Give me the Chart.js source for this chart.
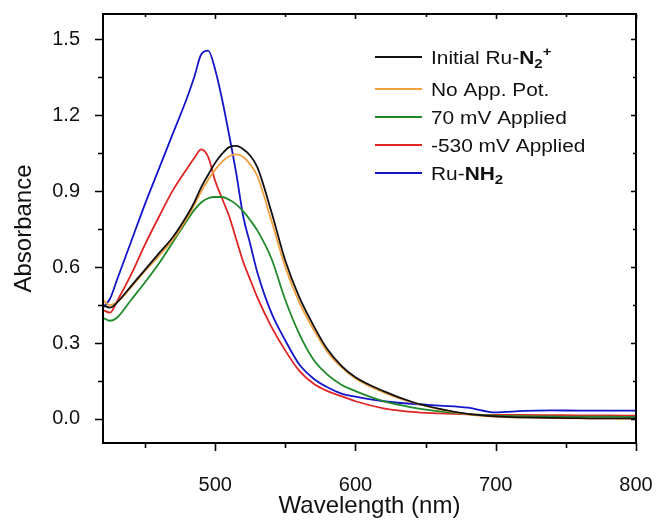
<!DOCTYPE html>
<html>
<head>
<meta charset="utf-8">
<script src="https://cdn.jsdelivr.net/npm/chart.js@4"></script>
<style>
  html, body { margin: 0; padding: 0; background: #fff; overflow: hidden; }
  #wrap { width: 657px; height: 520px; position: relative; overflow: hidden; }
  #spectra { display: block; }
</style>
</head>
<body>
<div id="wrap"><canvas id="spectra"></canvas></div>
<script>
// UV-vis spectra, absorbance vs wavelength (nm)
const wavelength = [420, 425, 430, 440, 450, 460, 470, 480, 485, 490, 495, 500, 505, 510, 515, 520, 525, 530,
                    540, 550, 560, 570, 580, 590, 600, 620, 640, 660, 680, 700, 720, 740, 760, 780, 800];

const initialRuN2 = [0.45, 0.44, 0.46, 0.525, 0.59, 0.655, 0.72, 0.805, 0.855, 0.915, 0.965, 1.012, 1.048, 1.074, 1.079, 1.066, 1.04, 0.995,
                     0.82, 0.625, 0.48, 0.37, 0.275, 0.21, 0.165, 0.11, 0.068, 0.04, 0.02, 0.01, 0.006, 0.004, 0.003, 0.002, 0.002];
const noPotential = [0.47, 0.45, 0.462, 0.52, 0.585, 0.645, 0.71, 0.795, 0.845, 0.898, 0.945, 0.985, 1.017, 1.038, 1.045, 1.035, 1.005, 0.96,
                     0.785, 0.60, 0.46, 0.355, 0.265, 0.205, 0.16, 0.105, 0.066, 0.038, 0.018, 0.008, 0.005, 0.003, 0.002, 0.001, 0.0];
const applied70 = [0.40, 0.388, 0.40, 0.47, 0.54, 0.615, 0.70, 0.785, 0.825, 0.855, 0.872, 0.877, 0.877, 0.866, 0.848, 0.82, 0.785, 0.745,
                   0.635, 0.47, 0.335, 0.235, 0.175, 0.135, 0.11, 0.07, 0.046, 0.03, 0.019, 0.013, 0.011, 0.01, 0.009, 0.009, 0.008];
const applied530 = [0.43, 0.42, 0.465, 0.57, 0.69, 0.80, 0.905, 0.99, 1.03, 1.065, 1.035, 0.94, 0.87, 0.80, 0.71, 0.62, 0.55, 0.48,
                    0.365, 0.27, 0.19, 0.14, 0.11, 0.09, 0.07, 0.042, 0.028, 0.022, 0.018, 0.016, 0.016, 0.015, 0.014, 0.014, 0.013];
const ruNH2 = [0.44, 0.475, 0.55, 0.70, 0.85, 0.99, 1.13, 1.27, 1.35, 1.44, 1.455, 1.38, 1.26, 1.12, 0.97, 0.80, 0.69, 0.58,
               0.42, 0.31, 0.215, 0.16, 0.125, 0.10, 0.088, 0.07, 0.06, 0.053, 0.045, 0.026, 0.032, 0.034, 0.033, 0.033, 0.033];

const xTicks = [500, 600, 700, 800];
const yTicks = [0.0, 0.3, 0.6, 0.9, 1.2, 1.5];

const seriesColors = ['#111111', '#f2a03d', '#1f8a2a', '#e02424', '#1515c8'];
const seriesNames = ['Initial Ru-N2+', 'No App. Pot.', '70 mV Applied', '-530 mV Applied', 'Ru-NH2'];
// legend text pieces: b = bold, sub / sup = sub- and superscript
const legendText = [
  [{ t: 'Initial Ru-' }, { t: 'N', b: 1 }, { t: '2', b: 1, sub: 1 }, { t: '+', b: 1, sup: 1 }],
  [{ t: 'No App. Pot.' }],
  [{ t: '70 mV Applied' }],
  [{ t: '-530 mV Applied' }],
  [{ t: 'Ru-' }, { t: 'NH', b: 1 }, { t: '2', b: 1, sub: 1 }]
];

const FONT = '"Liberation Sans", Arial, sans-serif';
const allSeries = [initialRuN2, noPotential, applied70, applied530, ruNH2];

const datasets = allSeries.map((vals, i) => ({
  label: seriesNames[i],
  data: wavelength.map((w, k) => ({ x: w, y: vals[k] })),
  borderColor: seriesColors[i],
  borderWidth: 1.8,
  pointRadius: 0,
  cubicInterpolationMode: 'monotone',
  fill: false
}));

// frame + major/minor tick marks (out on bottom/left, in on top/right)
const frameTicks = {
  id: 'frameTicks',
  afterDatasetsDraw(chart) {
    const { ctx, chartArea: a, scales: { x, y } } = chart;
    ctx.save();
    ctx.strokeStyle = '#000';
    ctx.lineWidth = 1.6;
    ctx.beginPath();
    const xStep = xTicks[1] - xTicks[0];
    const yStep = yTicks[1] - yTicks[0];
    const xs = [];
    xTicks.forEach(v => { xs.push([v, true]); xs.push([v - xStep / 2, false]); });
    xs.forEach(([v, major]) => {
      if (v < x.min || v > x.max) return;
      const px = Math.round(x.getPixelForValue(v)) + 0.5;
      ctx.moveTo(px, a.bottom); ctx.lineTo(px, a.bottom + (major ? 8 : 5));
      ctx.moveTo(px, a.top); ctx.lineTo(px, a.top + (major ? 5 : 3));
    });
    const ys = [];
    yTicks.forEach(v => { ys.push([v, true]); ys.push([v + yStep / 2, false]); });
    ys.forEach(([v, major]) => {
      if (v < y.min || v > y.max) return;
      const py = Math.round(y.getPixelForValue(v)) + 0.5;
      ctx.moveTo(a.left, py); ctx.lineTo(a.left - (major ? 8 : 5), py);
      ctx.moveTo(a.right, py); ctx.lineTo(a.right - (major ? 5 : 3), py);
    });
    ctx.stroke();
    ctx.lineWidth = 2;
    ctx.strokeRect(a.left, a.top, a.right - a.left, a.bottom - a.top);
    ctx.restore();
  }
};

// legend with bold / sub / superscript pieces
const richLegend = {
  id: 'richLegend',
  afterDraw(chart) {
    const { ctx, chartArea: a } = chart;
    const x0 = a.left + 272, x1 = a.left + 319, tx = a.left + 328;
    ctx.save();
    legendText.forEach((parts, i) => {
      const yy = a.top + 43 + i * 28 + (i > 0 ? 4 : 0);
      ctx.strokeStyle = seriesColors[i];
      ctx.lineWidth = 2;
      ctx.beginPath();
      ctx.moveTo(x0, yy); ctx.lineTo(x1, yy);
      ctx.stroke();
      ctx.save();
      ctx.translate(tx, yy + 6.5);
      ctx.scale(1.16, 1);
      ctx.fillStyle = '#111';
      ctx.textBaseline = 'alphabetic';
      let cx = 0;
      parts.forEach(p => {
        const size = (p.sub || p.sup) ? 13 : 18;
        ctx.font = (p.b ? 'bold ' : '') + size + 'px ' + FONT;
        const dy = p.sub ? 4 : (p.sup ? -8 : 0);
        ctx.fillText(p.t, cx, dy);
        cx += ctx.measureText(p.t).width;
      });
      ctx.restore();
    });
    ctx.restore();
  }
};

new Chart(document.getElementById('spectra'), {
  type: 'line',
  data: { datasets },
  options: {
    responsive: true,
    maintainAspectRatio: false,
    animation: false,
    layout: { padding: { top: 14, right: 21, bottom: 0, left: 0 } },
    plugins: { legend: { display: false }, tooltip: { enabled: false } },
    scales: {
      x: {
        type: 'linear',
        min: 420,
        max: 800,
        afterBuildTicks: s => { s.ticks = xTicks.map(v => ({ value: v })); },
        afterFit: s => { s.height = 77; s.paddingLeft = 0; s.paddingRight = 0; },
        grid: { display: false },
        border: { display: false },
        ticks: { color: '#111', padding: 22, maxRotation: 0, font: { family: FONT, size: 20 } },
        title: {
          display: true,
          text: 'Wavelength (nm)',
          color: '#111',
          padding: { top: 0, bottom: 0 },
          font: { family: FONT, size: 24, lineHeight: 1.1 }
        }
      },
      y: {
        min: -0.095,
        max: 1.6,
        afterBuildTicks: s => { s.ticks = yTicks.map(v => ({ value: v })); },
        afterFit: s => { s.width = 103; s.paddingTop = 0; s.paddingBottom = 0; },
        grid: { display: false },
        border: { display: false },
        ticks: {
          color: '#111',
          padding: 15,
          font: { family: FONT, size: 20 },
          callback: v => v.toFixed(1)
        },
        title: {
          display: true,
          text: 'Absorbance',
          color: '#111',
          padding: { top: 10, bottom: 0 },
          font: { family: FONT, size: 24, lineHeight: 1.2 }
        }
      }
    }
  },
  plugins: [frameTicks, richLegend]
});
</script>
</body>
</html>
